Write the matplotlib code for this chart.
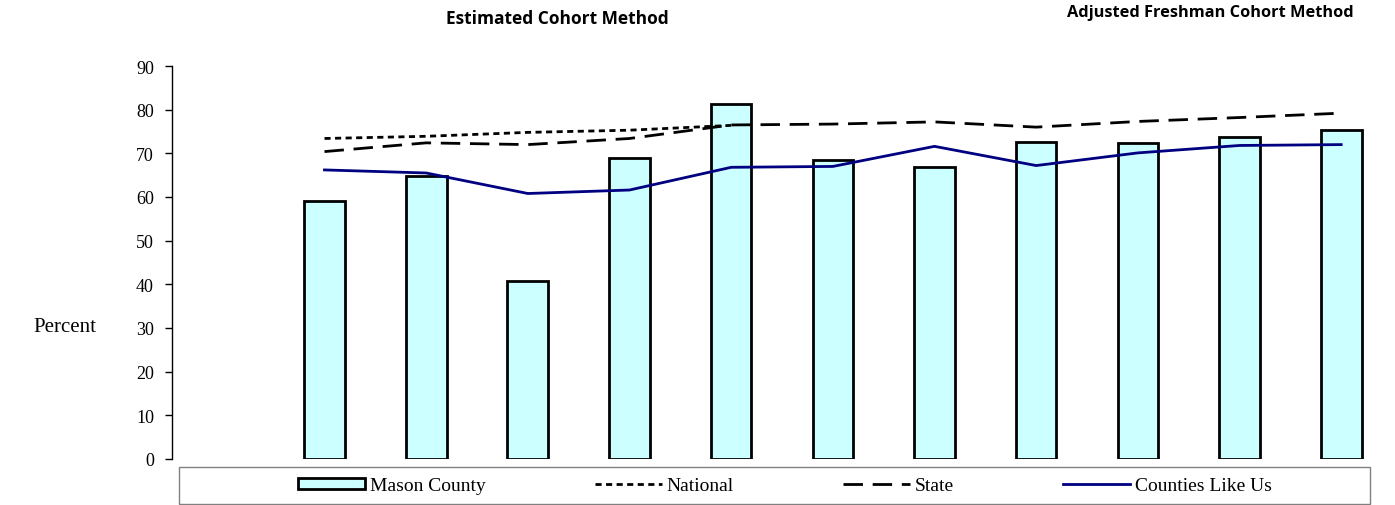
import numpy as np
import matplotlib
matplotlib.use('Agg')
import matplotlib.pyplot as plt
from matplotlib.patches import Rectangle

# values (first slot of the category axis is empty)
years = np.arange(1, 12)
mason = [59.1, 64.8, 40.8, 68.9, 81.3, 68.5, 66.9, 72.7, 72.3, 73.8, 75.3]
national = [73.4, 73.9, 74.8, 75.3, 76.4]
state = [70.4, 72.4, 72.0, 73.4, 76.5, 76.7, 77.2, 76.0, 77.3, 78.2, 79.2]
counties = [66.2, 65.5, 60.8, 61.6, 66.8, 67.0, 71.6, 67.2, 70.1, 71.8, 72.0]
yticks = list(range(0, 91, 10))

W, H = 1395, 506
fig = plt.figure(figsize=(W / 100, H / 100), dpi=100)
ax = fig.add_axes([172 / W, 1 - 460 / H, (1392 - 172) / W, (460 - 67) / H])

serif = 'Liberation Serif'

b = ax.bar(years, mason, width=0.4, color='#CCFFFF', edgecolor='black',
           linewidth=2, label='Mason County', zorder=2)
l1, = ax.plot(years[:len(national)], national, color='black', lw=2,
              linestyle=(0, (2.2, 1.6)), label='National', zorder=3)
l2, = ax.plot(years, state, color='black', lw=2, linestyle=(0, (7, 3.5)),
              label='State', zorder=3)
l3, = ax.plot(years, counties, color='#000080', lw=2, label='Counties Like Us', zorder=3)

ax.set_xlim(-0.5, 11.5)
ax.set_ylim(0, 90)
ax.set_yticks(yticks)
ax.set_xticks([])
for s in ['top', 'right', 'bottom']:
    ax.spines[s].set_visible(False)
ax.spines['left'].set_linewidth(1)
ax.tick_params(axis='y', direction='out', length=5, width=1, pad=8)
for lab in ax.get_yticklabels():
    lab.set_fontfamily(serif)
    lab.set_fontsize(13)

fig.text(33 / W, 1 - 328 / H, 'Percent', family=serif, fontsize=15,
         ha='left', va='center')

fig.text(557 / W, 1 - 19 / H, 'Estimated Cohort Method', family='Open Sans',
         fontweight='bold', fontsize=12.5, ha='center', va='center')
fig.text(1210 / W, 1 - 13 / H, 'Adjusted Freshman Cohort Method',
         family='Open Sans', fontweight='bold', fontsize=11.8, ha='center', va='center')

# legend box under the plot
fig.patches.append(Rectangle((179 / W, 1 - 505 / H), (1370 - 179) / W, 37 / H,
                             transform=fig.transFigure, fill=False,
                             edgecolor='#808080', lw=1))
fig.legend(handles=[b, l1, l2, l3], loc='center',
           bbox_to_anchor=(785 / W, 1 - 487 / H), ncol=4,
           frameon=False, prop={'family': serif, 'size': 14},
           handlelength=3.45, handletextpad=0.25, columnspacing=5.6,
           handleheight=0.45)

fig.savefig('out.png', dpi=100)
